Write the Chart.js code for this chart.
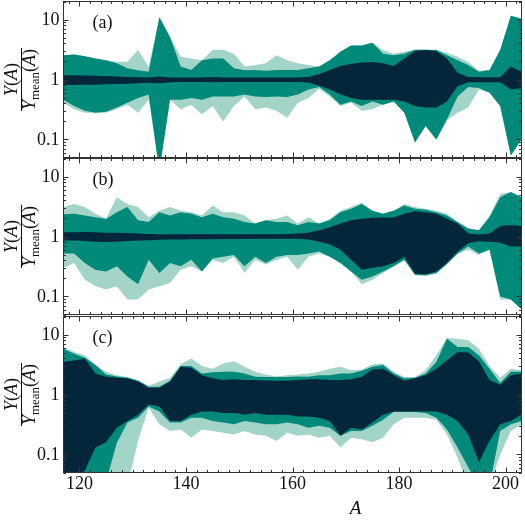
<!DOCTYPE html>
<html>
<head>
<meta charset="utf-8">
<script src="https://cdn.jsdelivr.net/npm/chart.js@4.4.1/dist/chart.umd.min.js"></script>
<style>
  html, body { margin: 0; background: #fff; }
  #wrap { position: relative; width: 525px; height: 525px; }
  #wrap canvas { position: absolute; left: 0; top: 0; }
</style>
</head>
<body>
<div id="wrap">
  <canvas id="panelA" width="525" height="525"></canvas>
  <canvas id="panelB" width="525" height="525"></canvas>
  <canvas id="panelC" width="525" height="525"></canvas>
</div>
<script>
// ── Data ──────────────────────────────────────────────────────────
const A_VALUES = [117,119,121,123,125,127,129,131,133,135,137,139,141,143,145,147,149,151,153,155,157,159,161,163,165,167,169,171,173,175,177,179,181,183,185,187,189,191,193,195,197,199,201,203];

const X_TICKS = [120, 140, 160, 180, 200];
const Y_TICKS = [0.1, 1, 10];
const Y_TICK_LABELS = ['0.1', '1', '10'];
const PANEL_LABELS = ['(a)', '(b)', '(c)'];

// panel (a)
const aLightHi = [2.55,2.6,2.45,2.25,2.1,1.98,1.98,3.1,1.64,10.9,5.1,2.4,2.25,2.1,3.1,3.15,2.7,1.64,1.75,1.86,2.55,2.1,1.86,1.75,1.64,2.1,2.9,3.7,3.7,4.1,3.1,2.7,2.9,3.15,3.15,3.1,2.8,2.4,1.95,1.4,1.44,3.1,11.6,10.3];
const aTealHi  = [2.55,2.6,2.45,2.25,2.1,1.86,1.54,1.42,1.35,10.9,5.1,1.64,1.44,2.1,2.25,2.25,1.54,1.42,1.44,1.4,1.44,1.44,1.44,1.54,1.64,2.1,2.9,3.7,3.7,4.1,2.7,2.55,2.7,3.15,3.15,3.1,2.55,2.1,1.75,1.35,1.44,3.1,11.6,10.3];
const aDarkHi  = [1.18,1.18,1.17,1.16,1.14,1.12,1.1,1.09,1.08,1.12,1.08,1.08,1.08,1.08,1.1,1.08,1.08,1.08,1.08,1.08,1.08,1.08,1.08,1.1,1.24,1.44,1.68,1.81,1.93,1.95,1.86,1.68,2.25,3.0,3.1,2.95,2.25,1.3,1.1,1.09,1.09,1.09,1.64,1.35];
const aDarkLo  = [0.82,0.81,0.82,0.82,0.83,0.84,0.85,0.87,0.88,0.87,0.9,0.91,0.91,0.91,0.9,0.91,0.91,0.91,0.91,0.91,0.91,0.91,0.91,0.89,0.79,0.68,0.57,0.49,0.46,0.46,0.46,0.46,0.43,0.36,0.34,0.34,0.43,0.77,0.9,0.9,0.9,0.9,0.68,0.72];
const aTealLo  = [0.46,0.36,0.3,0.28,0.29,0.34,0.41,0.49,0.56,0.03,0.46,0.46,0.49,0.46,0.52,0.52,0.52,0.56,0.52,0.51,0.52,0.51,0.56,0.68,0.75,0.56,0.38,0.43,0.36,0.43,0.38,0.43,0.28,0.089,0.168,0.1,0.216,0.52,0.75,0.72,0.6,0.36,0.054,0.1];
const aLightLo = [0.41,0.32,0.28,0.28,0.28,0.32,0.38,0.28,0.46,0.03,0.46,0.32,0.38,0.26,0.36,0.2,0.36,0.52,0.32,0.34,0.3,0.23,0.41,0.49,0.7,0.52,0.36,0.41,0.3,0.32,0.38,0.43,0.28,0.089,0.168,0.1,0.21,0.28,0.34,0.68,0.6,0.36,0.054,0.1];

// panel (b)
const bLightHi = [3.1,3.5,3.1,2.4,2.0,4.5,3.5,3.1,2.1,2.7,3.1,2.7,2.55,2.25,3.3,2.55,2.55,2.25,1.64,1.86,1.98,2.25,1.64,2.1,1.64,1.98,2.7,3.1,3.7,2.7,2.4,2.7,3.5,3.1,2.9,2.7,2.4,1.75,1.4,1.27,2.25,5.1,5.5,4.5];
const bTealHi  = [2.35,2.4,2.25,2.1,1.95,2.55,3.1,1.86,1.75,2.55,2.25,2.55,2.4,2.1,2.4,2.1,1.98,1.75,1.64,1.86,1.75,1.75,1.54,1.75,1.64,1.86,2.55,2.9,3.5,2.7,2.4,2.7,3.3,2.9,2.8,2.55,2.25,1.75,1.35,1.27,2.1,4.5,5.5,4.5];
const bDarkHi  = [1.18,1.18,1.19,1.18,1.16,1.16,1.14,1.12,1.1,1.09,1.09,1.09,1.09,1.09,1.09,1.09,1.09,1.09,1.09,1.09,1.09,1.1,1.12,1.16,1.27,1.42,1.64,1.86,1.98,2.05,2.07,2.07,2.4,2.65,2.55,2.4,1.98,1.64,1.12,1.08,1.12,1.5,1.55,1.5];
const bDarkLo  = [0.86,0.86,0.84,0.82,0.81,0.82,0.84,0.86,0.87,0.88,0.89,0.89,0.9,0.9,0.9,0.91,0.91,0.91,0.92,0.92,0.92,0.92,0.92,0.89,0.82,0.74,0.6,0.41,0.28,0.3,0.32,0.36,0.46,0.24,0.235,0.26,0.36,0.56,0.77,0.83,0.82,0.79,0.68,0.68];
const bTealLo  = [0.52,0.52,0.36,0.28,0.26,0.32,0.216,0.16,0.41,0.245,0.36,0.32,0.41,0.26,0.43,0.46,0.49,0.32,0.46,0.36,0.46,0.49,0.49,0.52,0.56,0.46,0.36,0.26,0.19,0.216,0.26,0.32,0.41,0.23,0.225,0.245,0.35,0.52,0.68,0.52,0.6,0.1,0.089,0.061];
const bLightLo = [0.3,0.36,0.19,0.148,0.13,0.148,0.089,0.089,0.13,0.148,0.168,0.28,0.32,0.26,0.41,0.36,0.46,0.245,0.41,0.34,0.41,0.46,0.28,0.46,0.52,0.46,0.36,0.26,0.16,0.19,0.245,0.32,0.4,0.225,0.22,0.24,0.34,0.51,0.6,0.49,0.6,0.089,0.089,0.061];

// panel (c)
const cLightHi = [6.2,5.1,4.5,3.1,2.4,2.1,1.95,1.75,1.4,1.64,1.9,3.2,4.0,3.0,2.7,3.3,3.6,2.9,2.4,2.15,2.0,2.1,2.15,2.25,2.4,2.7,2.9,2.55,2.6,3.2,3.3,2.4,1.95,1.95,2.55,4.5,8.8,8.5,8.0,5.8,3.0,1.9,2.7,2.55];
const cTealHi  = [5.8,4.8,4.1,3.1,2.15,2.0,1.9,1.7,1.35,1.35,1.7,3.0,3.0,2.25,2.35,2.4,2.4,2.25,1.98,1.95,1.95,1.95,2.0,1.98,2.1,2.1,2.25,2.25,2.5,2.9,3.1,2.25,1.86,1.9,2.25,3.5,8.5,6.2,6.2,4.5,2.7,1.55,2.4,2.4];
const cDarkHi  = [3.5,3.7,4.0,2.25,1.98,1.9,1.86,1.65,1.3,1.3,1.64,2.9,2.8,2.1,1.86,1.75,1.8,1.75,1.75,1.72,1.7,1.7,1.75,1.8,1.8,1.75,1.75,1.8,1.98,2.6,2.7,2.1,1.7,1.86,2.1,2.7,3.7,5.1,5.0,3.6,1.75,1.45,2.1,2.25];
const cDarkLo  = [0.03,0.03,0.054,0.13,0.16,0.28,0.36,0.46,0.68,0.63,0.36,0.36,0.46,0.52,0.52,0.49,0.49,0.46,0.49,0.46,0.46,0.46,0.43,0.43,0.41,0.36,0.205,0.28,0.26,0.34,0.46,0.52,0.52,0.52,0.52,0.52,0.46,0.36,0.216,0.074,0.17,0.32,0.36,0.46];
const cTealLo  = [0.03,0.03,0.03,0.03,0.035,0.155,0.34,0.41,0.63,0.52,0.34,0.34,0.41,0.41,0.36,0.34,0.32,0.36,0.34,0.32,0.32,0.34,0.32,0.28,0.3,0.28,0.205,0.245,0.245,0.3,0.38,0.51,0.51,0.51,0.49,0.41,0.26,0.13,0.061,0.03,0.03,0.245,0.32,0.36];
const cLightLo = [0.03,0.03,0.03,0.03,0.03,0.03,0.03,0.17,0.6,0.32,0.245,0.26,0.19,0.26,0.245,0.23,0.216,0.245,0.216,0.205,0.168,0.23,0.205,0.216,0.19,0.205,0.13,0.19,0.18,0.16,0.19,0.32,0.41,0.41,0.41,0.38,0.216,0.089,0.03,0.03,0.03,0.1,0.245,0.32];

// ── Style ─────────────────────────────────────────────────────────
const LIGHT = '#a2d4c8';
const TEAL = '#01897a';
const DARK = '#03263a';
const FRAME = '#333333';
const TEXT = '#111111';
const SERIF = '"Liberation Serif", "DejaVu Serif", serif';

// ── Panel decoration: frame, inward ticks, labels ────────────────
const panelDecor = {
  id: 'panelDecor',
  afterDraw(chart, args, opts) {
    const { ctx, chartArea: ca, scales: { x, y } } = chart;
    ctx.save();
    ctx.strokeStyle = FRAME;
    ctx.lineWidth = 1;
    ctx.beginPath();
    for (let a = 118; a <= 202; a += 2) {
      const px = Math.round(x.getPixelForValue(a)) + 0.5;
      const len = a % 20 === 0 ? 5 : 2.5;
      ctx.moveTo(px, ca.bottom); ctx.lineTo(px, ca.bottom - len);
      ctx.moveTo(px, ca.top); ctx.lineTo(px, ca.top + len);
    }
    [0.01, 0.1, 1, 10].forEach(dec => {
      for (let m = 1; m <= 9; m++) {
        const v = dec * m;
        if (v < 0.0499 || v > 20) continue;
        const py = Math.round(y.getPixelForValue(v)) + 0.5;
        const len = m === 1 ? 5 : 2.5;
        ctx.moveTo(ca.left, py); ctx.lineTo(ca.left + len, py);
        ctx.moveTo(ca.right, py); ctx.lineTo(ca.right - len, py);
      }
    });
    ctx.stroke();
    ctx.strokeRect(ca.left, ca.top, ca.right - ca.left, ca.bottom - ca.top);

    // y tick labels
    ctx.fillStyle = TEXT;
    ctx.font = '18px ' + SERIF;
    ctx.textAlign = 'right';
    ctx.textBaseline = 'middle';
    Y_TICKS.forEach((v, i) => ctx.fillText(Y_TICK_LABELS[i], ca.left - 4, y.getPixelForValue(v) + 1));

    // panel label
    ctx.textAlign = 'left';
    ctx.fillText(opts.label, ca.left + 29, ca.top + 22);

    // y axis title: Y(A) / Y_mean(A)
    const cy = (ca.top + ca.bottom) / 2;
    ctx.translate(21, cy);
    ctx.rotate(-Math.PI / 2);
    const it = 'italic 18px ' + SERIF, up = '18px ' + SERIF, sub = '13px ' + SERIF;
    const runs = parts => parts.reduce((w, p) => { ctx.font = p[1]; return w + ctx.measureText(p[0]).width; }, 0);
    const drawRuns = (parts, x0, base) => {
      let xx = x0;
      parts.forEach(p => { ctx.font = p[1]; ctx.fillText(p[0], xx, base + (p[2] || 0)); xx += ctx.measureText(p[0]).width; });
    };
    const num = [['Y', it], ['(', up], ['A', it], [')', up]];
    const den = [['Y', it], ['mean', sub, 4], ['(', up], ['A', it], [')', up]];
    ctx.textAlign = 'left';
    ctx.textBaseline = 'alphabetic';
    const wn = runs(num), wd = runs(den);
    drawRuns(num, -wn / 2, -4);
    drawRuns(den, -wd / 2, 14);
    ctx.beginPath();
    ctx.moveTo(-wd / 2 - 1, 0.5); ctx.lineTo(wd / 2 + 1, 0.5);
    ctx.strokeStyle = TEXT;
    ctx.stroke();
    ctx.setTransform(1, 0, 0, 1, 0, 0);

    // x tick labels and title on the bottom panel
    if (opts.showX) {
      ctx.font = '18px ' + SERIF;
      ctx.textAlign = 'center';
      ctx.textBaseline = 'middle';
      X_TICKS.forEach(v => ctx.fillText(String(v), x.getPixelForValue(v), ca.bottom + 12));
      ctx.font = 'italic 19px ' + SERIF;
      ctx.fillText('A', (ca.left + ca.right) / 2 + 63, ca.bottom + 36);
    }
    ctx.restore();
  }
};

// ── Panels ────────────────────────────────────────────────────────
function band(arr, color, fill, order) {
  return {
    data: A_VALUES.map((a, i) => ({ x: a, y: arr[i] })),
    backgroundColor: color,
    borderColor: 'rgba(0,0,0,0)',
    borderWidth: 0,
    pointRadius: 0,
    tension: 0,
    fill,
    order,
  };
}

function renderPanel(canvasId, top, bottom, label, showX, series) {
  const [lh, ll, th, tl, dh, dl] = series;
  return new Chart(document.getElementById(canvasId), {
    type: 'line',
    data: {
      datasets: [
        band(lh, LIGHT, '+1', 3), band(ll, LIGHT, false, 3),
        band(th, TEAL, '+1', 2), band(tl, TEAL, false, 2),
        band(dh, DARK, '+1', 1), band(dl, DARK, false, 1),
      ],
    },
    options: {
      responsive: false,
      devicePixelRatio: 1,
      animation: false,
      layout: { padding: { left: 63.5, right: 3.5, top, bottom: 525 - bottom } },
      scales: {
        x: { type: 'linear', min: 117, max: 203, display: false },
        y: { type: 'logarithmic', min: 0.05, max: 20, display: false },
      },
      plugins: {
        legend: { display: false },
        tooltip: { enabled: false },
        panelDecor: { label, showX },
      },
    },
    plugins: [panelDecor],
  });
}

renderPanel('panelA', 1.5, 157.5, PANEL_LABELS[0], false, [aLightHi, aLightLo, aTealHi, aTealLo, aDarkHi, aDarkLo]);
renderPanel('panelB', 158.5, 314.5, PANEL_LABELS[1], false, [bLightHi, bLightLo, bTealHi, bTealLo, bDarkHi, bDarkLo]);
renderPanel('panelC', 316.5, 472.5, PANEL_LABELS[2], true, [cLightHi, cLightLo, cTealHi, cTealLo, cDarkHi, cDarkLo]);
</script>
</body>
</html>
